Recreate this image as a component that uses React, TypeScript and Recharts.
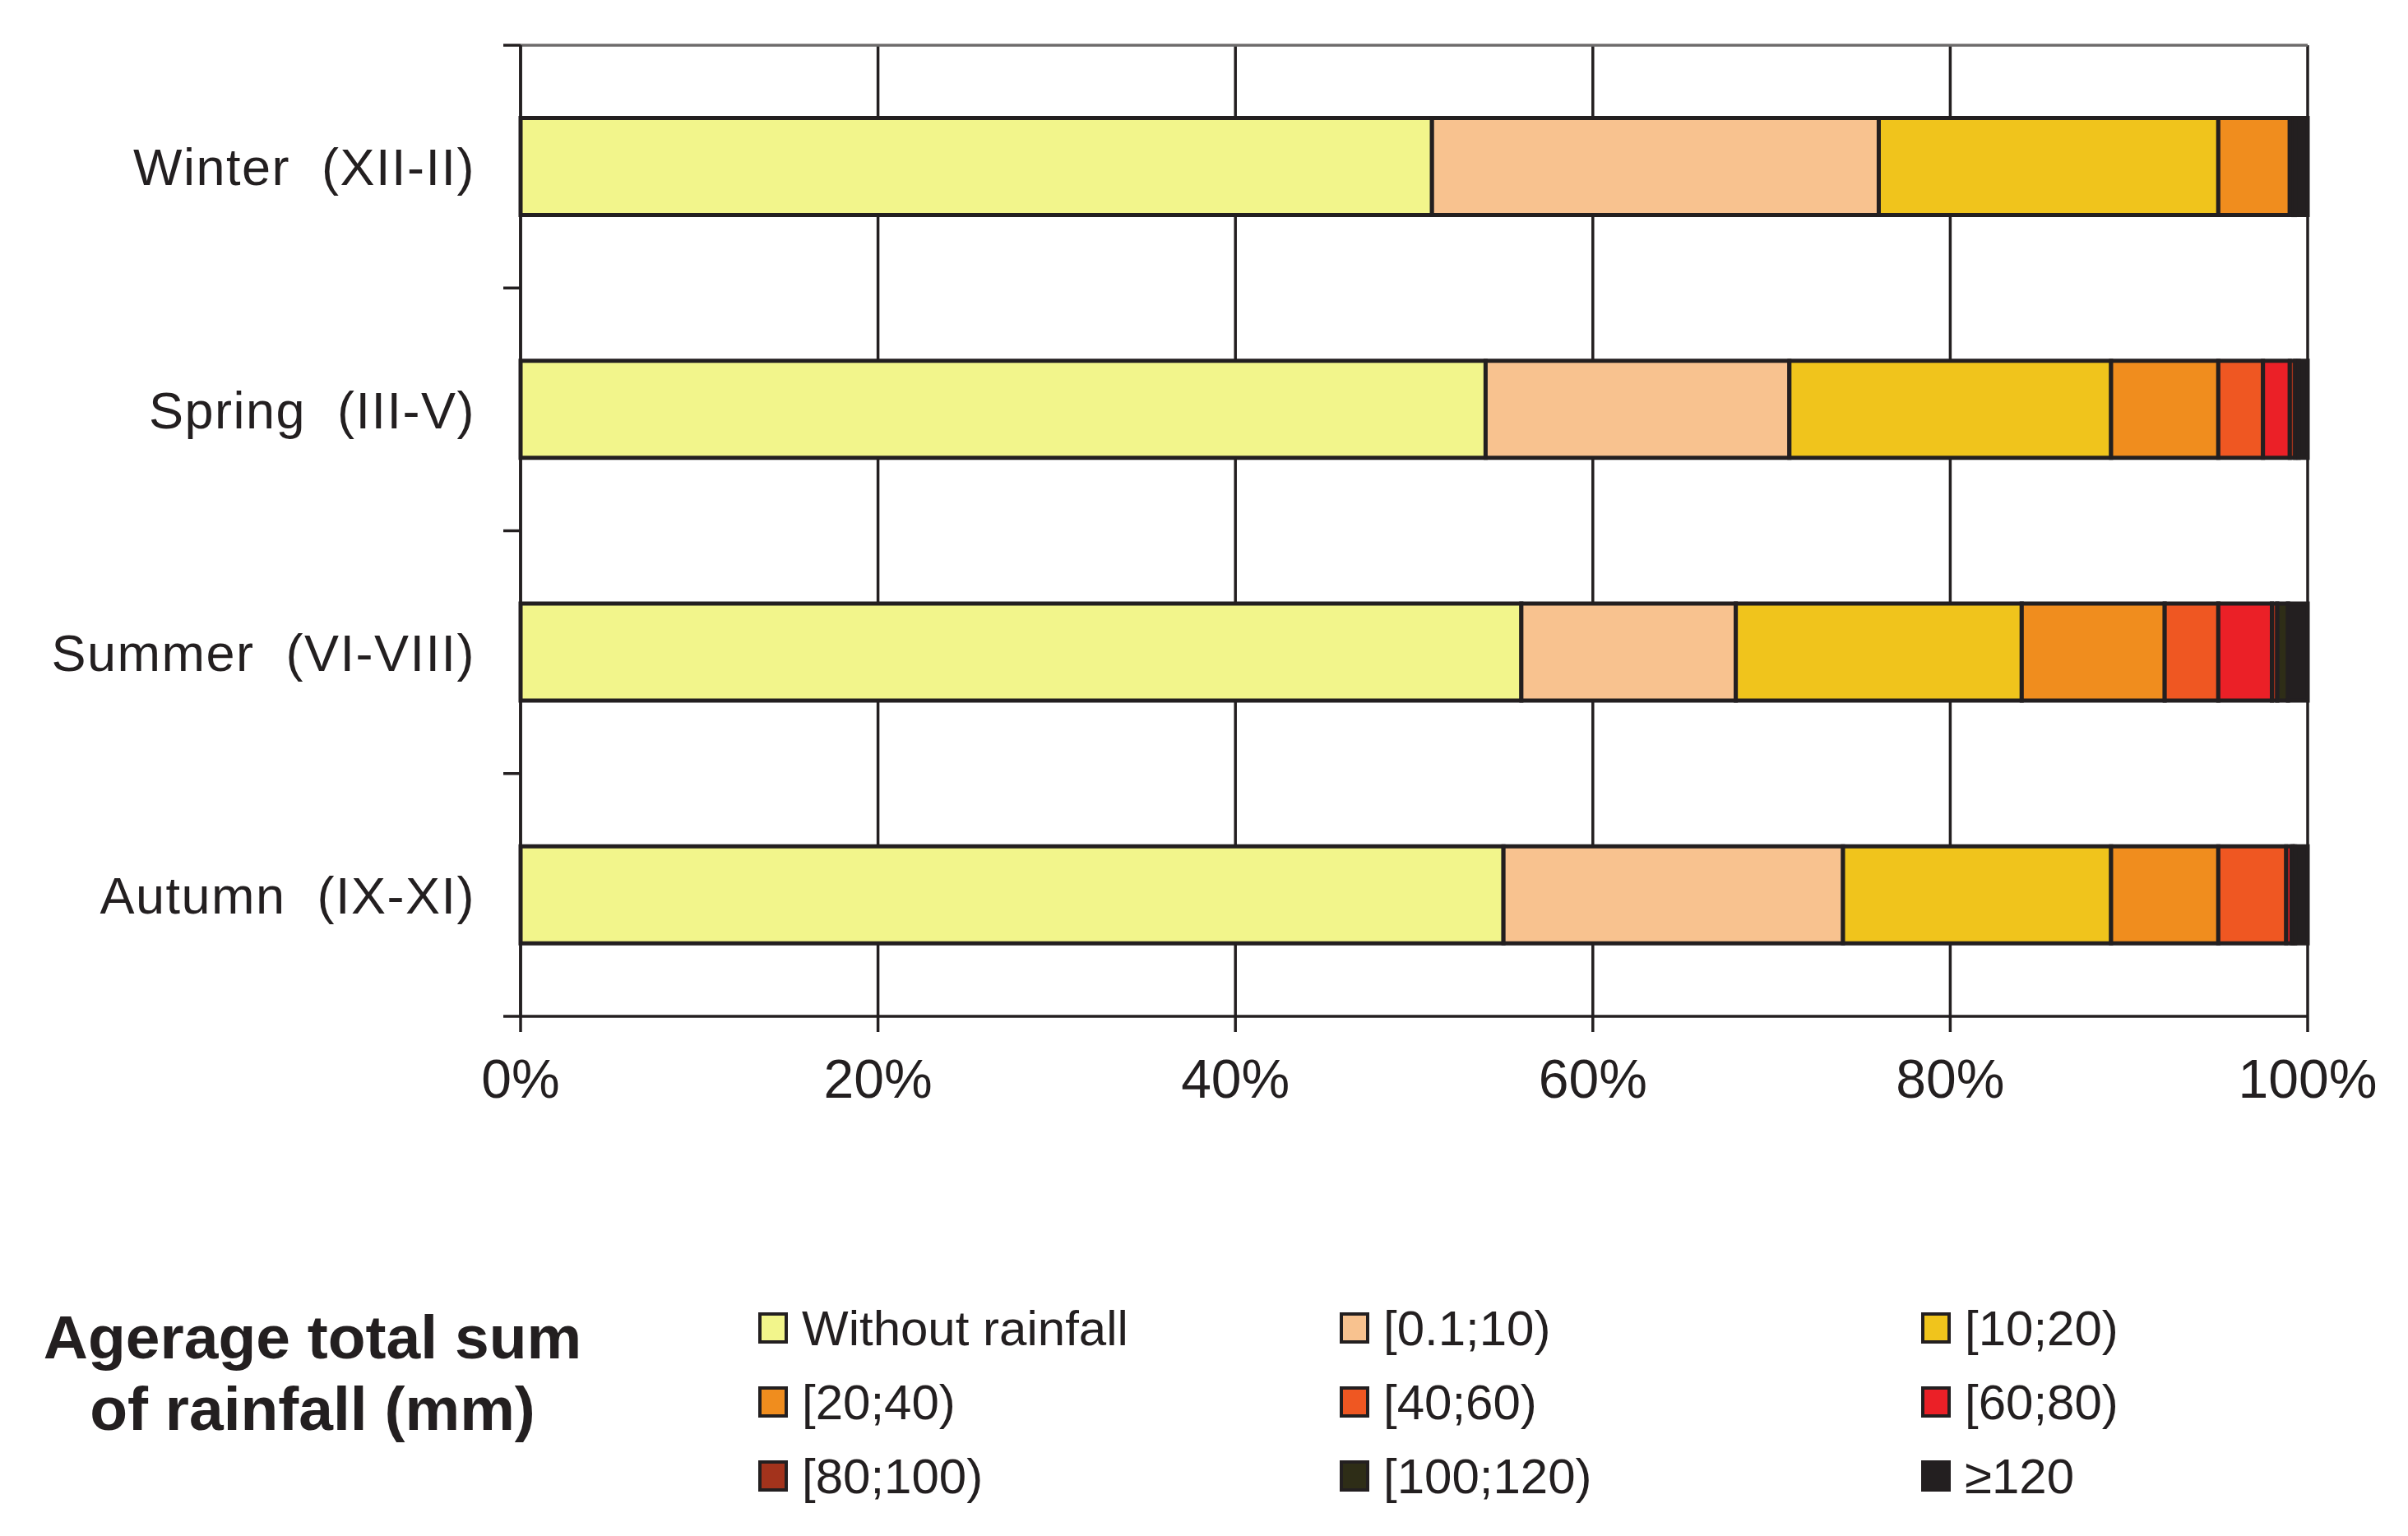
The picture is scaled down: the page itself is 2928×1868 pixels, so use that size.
// App.tsx — seasonal share of days by total rainfall class, 100% stacked horizontal bars.

import { Bar, BarChart, CartesianGrid, XAxis, YAxis } from "recharts";

const INK = "#231f20";
const FONT = '"Liberation Sans", Arial, sans-serif';

const seasons = ["Winter\u00a0 (XII-II)", "Spring\u00a0 (III-V)", "Summer\u00a0 (VI-VIII)", "Autumn\u00a0 (IX-XI)"];

// share of days (%) per rainfall class, one value per season (Winter, Spring, Summer, Autumn)
const withoutRain = [51, 54, 56, 55];
const r0to10 = [25, 17, 12, 19];
const r10to20 = [19, 18, 16, 15];
const r20to40 = [4, 6, 8, 6];
const r40to60 = [0.2, 2.5, 3, 3.8];
const r60to80 = [0.1, 1.5, 3, 0.3];
const r80to100 = [0, 0.3, 0.3, 0.1];
const r100to120 = [0, 0.2, 0.6, 0.1];
const r120plus = [0.7, 0.5, 1.1, 0.7];

const classLabels = [
  "Without rainfall",
  "[0.1;10)",
  "[10;20)",
  "[20;40)",
  "[40;60)",
  "[60;80)",
  "[80;100)",
  "[100;120)",
  "\u2265120",
];
const classColors = ["#f2f58b", "#f8c28f", "#f0c41c", "#f08d1e", "#ef5722", "#eb2027", "#a3331c", "#2e2d17", INK];
const classValues = [withoutRain, r0to10, r10to20, r20to40, r40to60, r60to80, r80to100, r100to120, r120plus];

const xTicks = [0, 20, 40, 60, 80, 100];

const data = seasons.map((season, i) => {
  const row: Record<string, string | number> = { season };
  classValues.forEach((vals, k) => (row[`c${k}`] = vals[i]));
  return row;
});

// season label plus the little outward ticks on the band edges (Excel-style category axis)
function SeasonTick(props: any) {
  const { x, y, payload, index, visibleTicksCount, height } = props;
  const half = payload?.offset ? payload.offset : height / visibleTicksCount / 2;
  const last = index === visibleTicksCount - 1;
  return (
    <g>
      <line x1={x - 21} x2={x} y1={y - half} y2={y - half} stroke={INK} strokeWidth={3.5} />
      {last && <line x1={x - 21} x2={x} y1={y + half} y2={y + half} stroke={INK} strokeWidth={3.5} />}
      <text
        x={x - 55}
        y={y}
        dy="0.36em"
        textAnchor="end"
        fill={INK}
        style={{ fontFamily: FONT, fontSize: 63, letterSpacing: 1.5 }}
      >
        {payload.value}
      </text>
    </g>
  );
}

export default function App() {
  return (
    <div style={{ position: "absolute", top: 0, left: 0, width: 2928, height: 1868, background: "#fff", fontFamily: FONT }}>
      <BarChart
        width={2928}
        height={1400}
        data={data}
        layout="vertical"
        barCategoryGap="30%"
        margin={{ top: 55, right: 122, bottom: 44, left: 0 }}
      >
        <CartesianGrid horizontal={false} stroke={INK} strokeWidth={3.5} />
        {/* thin grey frame line along the top of the plot */}
        <CartesianGrid
          vertical={false}
          stroke="#6d6b6b"
          strokeWidth={3.5}
          horizontalCoordinatesGenerator={(p: any) => [p.offset.top]}
        />
        <XAxis
          type="number"
          domain={[0, 100]}
          ticks={xTicks}
          tickFormatter={(v) => `${v}%`}
          height={120}
          tickSize={19}
          tickMargin={33}
          axisLine={{ stroke: INK, strokeWidth: 3.5 }}
          tickLine={{ stroke: INK, strokeWidth: 3.5 }}
          tick={{ fill: INK, fontSize: 66, fontFamily: FONT }}
        />
        <YAxis
          type="category"
          dataKey="season"
          width={633}
          tickSize={0}
          tickMargin={0}
          tickLine={false}
          axisLine={{ stroke: INK, strokeWidth: 3.5 }}
          tick={<SeasonTick />}
          interval={0}
        />
        {classLabels.map((name, k) => (
          <Bar
            key={name}
            dataKey={`c${k}`}
            name={name}
            stackId="s"
            fill={classColors[k]}
            stroke={INK}
            strokeWidth={5}
            isAnimationActive={false}
          />
        ))}
      </BarChart>

      <div
        style={{
          position: "absolute",
          left: 0,
          top: 1583,
          width: 760,
          textAlign: "center",
          fontWeight: "bold",
          fontSize: 75,
          lineHeight: "87px",
          color: INK,
        }}
      >
        Agerage total sum
        <br />
        of rainfall (mm)
      </div>

      <div
        style={{
          position: "absolute",
          left: 922,
          top: 1570,
          display: "grid",
          gridTemplateColumns: "707px 707px 500px",
          gridAutoRows: "90px",
        }}
      >
        {classLabels.map((name, k) => (
          <div key={name} style={{ display: "flex", alignItems: "center", height: 90 }}>
            <span
              style={{
                display: "inline-block",
                width: 36,
                height: 38,
                boxSizing: "border-box",
                border: `4px solid ${INK}`,
                background: classColors[k],
                marginRight: 17,
              }}
            />
            <span style={{ fontSize: 60, color: INK }}>{name}</span>
          </div>
        ))}
      </div>
    </div>
  );
}
